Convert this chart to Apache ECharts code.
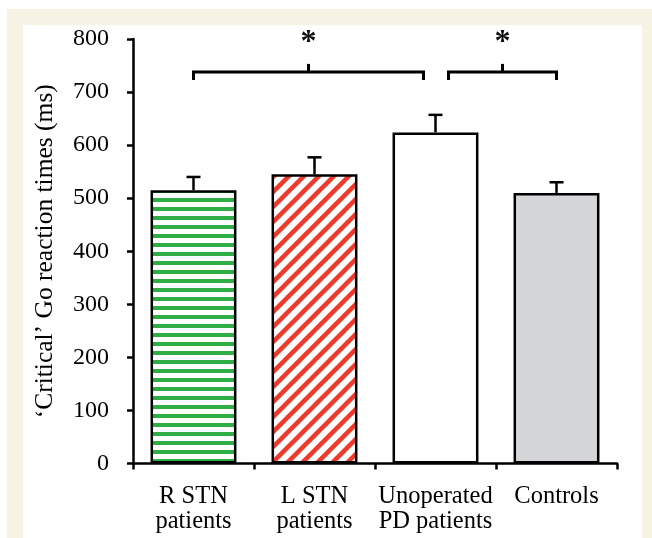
<!DOCTYPE html>
<html>
<head>
<meta charset="utf-8">
<script src="https://cdn.jsdelivr.net/npm/echarts@6/dist/echarts.min.js"></script>
<style>
  html, body { margin: 0; padding: 0; background: #ffffff; }
  #cream { position: absolute; left: 7px; top: 9px; width: 645px; height: 529px; background: #f6f2e4; }
  #panel { position: absolute; left: 23px; top: 25px; width: 619px; height: 513px; background: #ffffff; }
  #chart { position: absolute; left: 0; top: 0; width: 652px; height: 538px; }
</style>
</head>
<body>
<div id="cream"></div>
<div id="panel"></div>
<div id="chart"></div>
<script>
// ---- data ----
var categories = ['R STN\npatients', 'L STN\npatients', 'Unoperated\nPD patients', 'Controls'];
var meanRT = [515, 545, 624, 510];
var errRT = [25, 32, 33, 20];
var yTicks = [0, 100, 200, 300, 400, 500, 600, 700, 800];
var sigFrom = [0, 2];
var sigTo = [2, 3];
var sigLevel = [738, 738];
var sigLabel = ['*', '*'];

// ---- fill patterns ----
function hStripes(color, period, thick) {
  var c = document.createElement('canvas');
  c.width = period; c.height = period;
  var ctx = c.getContext('2d');
  ctx.fillStyle = '#ffffff'; ctx.fillRect(0, 0, period, period);
  ctx.fillStyle = color; ctx.fillRect(0, 0, period, thick);
  return c;
}
function dStripes(color, period, width) {
  var c = document.createElement('canvas');
  c.width = period; c.height = period;
  var ctx = c.getContext('2d');
  ctx.fillStyle = '#ffffff'; ctx.fillRect(0, 0, period, period);
  ctx.strokeStyle = color; ctx.lineWidth = width;
  for (var k = 0; k <= 2; k++) {
    ctx.beginPath();
    ctx.moveTo(-period, k * period + period);
    ctx.lineTo(k * period + period, -period);
    ctx.stroke();
  }
  return c;
}
var fills = [
  { image: hStripes('#2fae48', 9, 4), repeat: 'repeat' },
  { image: dStripes('#ec3a2d', 15, 4.5), repeat: 'repeat' },
  '#ffffff',
  '#d5d6d8'
];

var barData = meanRT.map(function (v, i) {
  return { value: v, itemStyle: { color: fills[i] } };
});
var errData = meanRT.map(function (v, i) { return [i, v, errRT[i]]; });
var sigData = sigFrom.map(function (f, i) { return [f, sigTo[i], sigLevel[i], i]; });

var chart = echarts.init(document.getElementById('chart'), null, { renderer: 'canvas' });
var font = 'Liberation Serif';

chart.setOption({
  backgroundColor: 'transparent',
  animation: false,
  grid: { left: 133, right: 35, top: 39, bottom: 74.5 },
  xAxis: {
    type: 'category',
    data: categories,
    axisLine: { show: true, lineStyle: { color: '#000', width: 2.5 } },
    axisTick: { show: true, length: 6, lineStyle: { color: '#000', width: 2.5 } },
    axisLabel: { color: '#000', fontFamily: font, fontSize: 24.5, lineHeight: 25, margin: 21, interval: 0 }
  },
  yAxis: {
    type: 'value',
    min: 0, max: 800, interval: 100,
    name: '\u2018Critical\u2019 Go reaction times (ms)',
    nameLocation: 'middle',
    nameGap: 75,
    nameRotate: 90,
    nameTextStyle: { color: '#000', fontFamily: font, fontSize: 25.5 },
    axisLine: { show: true, lineStyle: { color: '#000', width: 2.5 } },
    axisTick: { show: true, length: 6, lineStyle: { color: '#000', width: 2.5 } },
    splitLine: { show: false },
    axisLabel: {
      color: '#000', fontFamily: font, fontSize: 24, margin: 24,
      formatter: function (v) { return yTicks.indexOf(v) >= 0 ? String(v) : ''; }
    }
  },
  series: [
    {
      type: 'bar',
      data: barData,
      barWidth: '71%',
      itemStyle: { borderColor: '#000', borderWidth: 2.5 },
      z: 2
    },
    {
      type: 'custom',
      data: errData,
      encode: { x: 0, y: 1 },
      z: 1,
      renderItem: function (params, api) {
        var i = api.value(0), m = api.value(1), e = api.value(2);
        var p0 = api.coord([i, m]);
        var p1 = api.coord([i, m + e]);
        var st = { stroke: '#000', lineWidth: 2.5, fill: 'none' };
        return {
          type: 'group',
          children: [
            { type: 'line', shape: { x1: p0[0], y1: p0[1], x2: p1[0], y2: p1[1] }, style: st },
            { type: 'line', shape: { x1: p1[0] - 7, y1: p1[1], x2: p1[0] + 7, y2: p1[1] }, style: st }
          ]
        };
      }
    },
    {
      type: 'custom',
      data: sigData,
      clip: false,
      z: 3,
      renderItem: function (params, api) {
        var f = api.value(0), t = api.value(1), lvl = api.value(2), idx = api.value(3);
        var a = api.coord([f, lvl]);
        var b = api.coord([t, lvl]);
        var x1 = a[0], x2 = b[0], y = a[1];
        if (sigTo.indexOf(f) >= 0) x1 += 13;
        if (sigFrom.indexOf(t) >= 0) x2 -= 12;
        var xm = (x1 + x2) / 2;
        var st = { stroke: '#000', lineWidth: 3, fill: 'none', lineCap: 'butt', lineJoin: 'miter' };
        return {
          type: 'group',
          children: [
            { type: 'polyline', shape: { points: [[x1, y + 8], [x1, y], [x2, y], [x2, y + 8]] }, style: st },
            { type: 'line', shape: { x1: xm, y1: y, x2: xm, y2: y - 8 }, style: st },
            { type: 'text', style: { text: sigLabel[idx], x: xm, y: y - 29, align: 'center', verticalAlign: 'middle',
              font: 'bold 32px "Liberation Serif"', fill: '#111' } }
          ]
        };
      }
    }
  ]
});
</script>
</body>
</html>
